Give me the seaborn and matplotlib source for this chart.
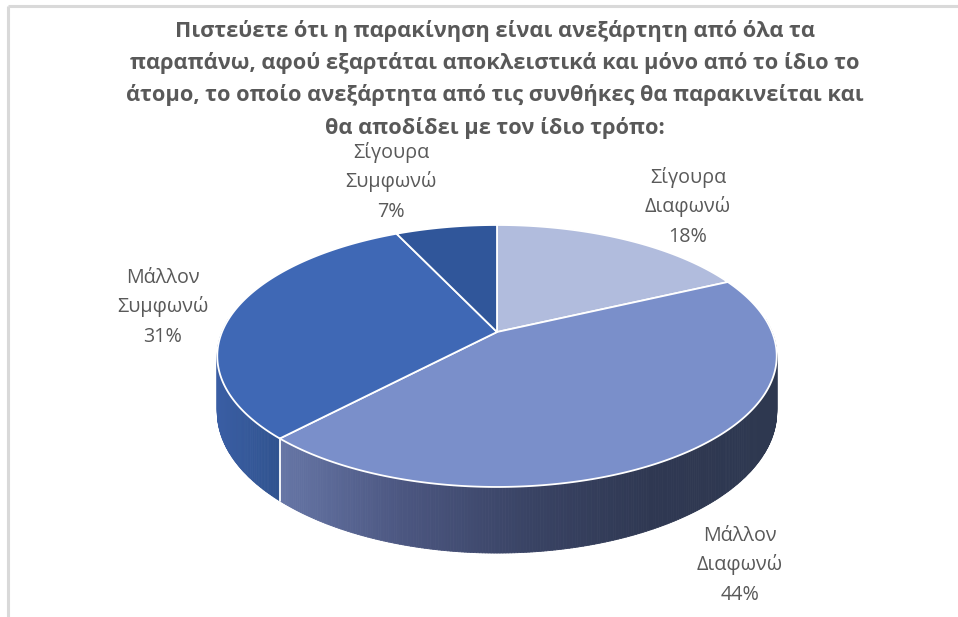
import numpy as np
import matplotlib
matplotlib.use("Agg")
import matplotlib.pyplot as plt
from matplotlib.collections import PolyCollection
import seaborn as sns

# ---- data ----
answers = ["Σίγουρα Διαφωνώ", "Μάλλον Διαφωνώ", "Μάλλον Συμφωνώ", "Σίγουρα Συμφωνώ"]
percent = [18, 44, 31, 7]

title_lines = [
    "Πιστεύετε ότι η παρακίνηση είναι ανεξάρτητη από όλα τα",
    "παραπάνω, αφού εξαρτάται αποκλειστικά και μόνο από το ίδιο το",
    "άτομο, το οποίο ανεξάρτητα από τις συνθήκες θα παρακινείται και",
    "θα αποδίδει με τον ίδιο τρόπο:",
]

# ---- styling ----
top_colors = ["#B1BCDD", "#7A8FCA", "#3F68B5", "#30569A"]
side_ramps = [
    ["#9DA9D2", "#8E9ACB"],
    ["#6676A6", "#4B5680", "#394364", "#2F3852", "#2E3850"],
    ["#3A5EA4", "#30538F"],
    ["#30569A", "#2A4C88"],
]
label_anchor = [(688, 183), (740, 541), (163, 283), (391, 158)]  # first-line baseline
TEXT_GREY = "#595959"

sns.set_theme(style="white")
plt.rcParams["font.family"] = ["Open Sans", "DejaVu Sans"]

# 3-D pie geometry (pixel space)
CX, CY = 497.0, 332.0      # apex of the slices
RX, RY = 275.0, 126.6      # horizontal / vertical radii
K = 0.183                  # perspective strength
H = 54.0                   # cylinder height


def proj(t, r=1.0, drop=0.0):
    u, v = r * np.cos(t), r * np.sin(t)
    w = 1.0 + K * v
    return CX + RX * u / w, CY - RY * v / w + H * drop / w


fig = plt.figure(figsize=(9.58, 6.17), dpi=100)
ax = fig.add_axes([0, 0, 1, 1])
ax.set_xlim(0, 958)
ax.set_ylim(617, 0)
ax.axis("off")

# chart frame
ax.plot([8, 8], [6, 617], color="#D9D9D9", lw=2.2, solid_capstyle="butt")
ax.plot([8, 958], [6, 6], color="#D9D9D9", lw=2.2, solid_capstyle="butt")

# slice boundaries (degrees), clockwise from 12 o'clock
bounds = 90.0 - 360.0 * np.concatenate([[0], np.cumsum(percent)]) / 100.0


def slice_of(deg):
    d = deg
    while d > 90:
        d -= 360
    while d <= -270:
        d += 360
    for i in range(len(percent)):
        if bounds[i + 1] <= d <= bounds[i]:
            return i
    return len(percent) - 1


# ---- cylinder side, painted back to front ----
grid = np.arange(-186.0, 6.01, 0.5)
quads, owner, depth, xmid = [], [], [], []
for a, b in zip(grid[:-1], grid[1:]):
    ta, tb = np.radians(a), np.radians(b)
    p1 = proj(ta); p2 = proj(tb)
    p3 = proj(tb, drop=1.0); p4 = proj(ta, drop=1.0)
    quads.append([p1, p2, p3, p4])
    owner.append(slice_of((a + b) / 2))
    depth.append(np.sin(np.radians((a + b) / 2)))
    xmid.append((p1[0] + p2[0]) / 2)
owner = np.array(owner); xmid = np.array(xmid)

face = [None] * len(quads)
for i in range(len(percent)):
    idx = np.where(owner == i)[0]
    if len(idx) == 0:
        continue
    ramp = sns.blend_palette(side_ramps[i], n_colors=256)
    lo, hi = xmid[idx].min(), xmid[idx].max()
    for j in idx:
        f = 0.0 if hi == lo else (xmid[j] - lo) / (hi - lo)
        face[j] = ramp[int(round(f * 255))]

order = np.argsort(-np.array(depth), kind="stable")
ax.add_collection(PolyCollection([quads[j] for j in order],
                                 facecolors=[face[j] for j in order],
                                 edgecolors=[face[j] for j in order],
                                 linewidths=0.6))

# white seam where slices meet on the visible side
for bd in bounds:
    d = bd if bd > -186 else bd + 360
    if -170 < d < -10:
        t = np.radians(d)
        x0, y0 = proj(t); x1, y1 = proj(t, drop=1.0)
        ax.plot([x0, x1], [y0, y1], color="white", lw=1.3)

# ---- top face ----
tops = []
for i in range(len(percent)):
    t = np.radians(np.linspace(bounds[i], bounds[i + 1], 240))
    xs, ys = proj(t)
    tops.append(np.column_stack([np.r_[CX, xs], np.r_[CY, ys]]))
ax.add_collection(PolyCollection(tops, facecolors=top_colors,
                                 edgecolors="white", linewidths=1.3))

# ---- title ----
for k, line in enumerate(title_lines):
    ax.text(495, 37 + 32.2 * k, line, ha="center", va="baseline",
            fontsize=15.7, fontweight="bold", color=TEXT_GREY)

# ---- data labels ----
for name, p, (lx, ly) in zip(answers, percent, label_anchor):
    parts = name.split() + [f"{p}%"]
    for k, s in enumerate(parts):
        ax.text(lx, ly + 29.3 * k, s, ha="center", va="baseline",
                fontsize=14.2, color=TEXT_GREY)

fig.savefig("out.png", dpi=100, facecolor="white")
